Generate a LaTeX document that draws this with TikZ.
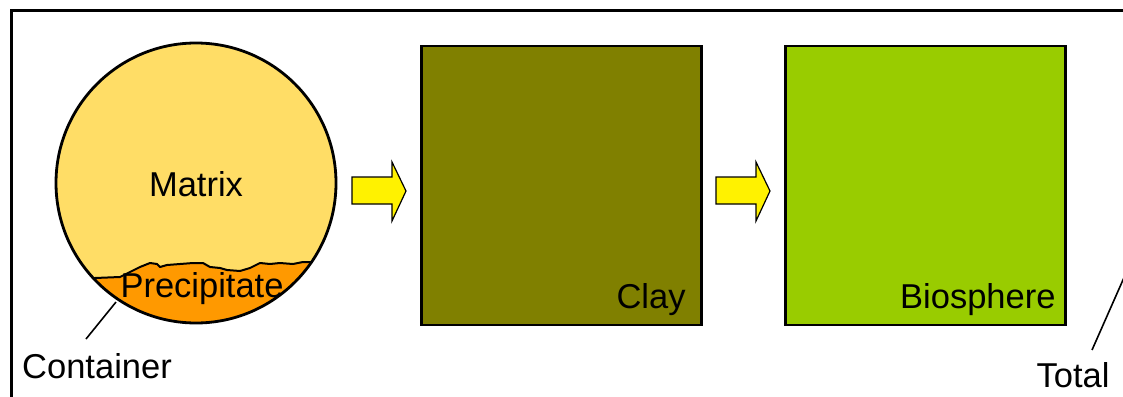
\documentclass[tikz,border=0pt]{standalone}
\usepackage{fontspec}
\setmainfont{Liberation Sans}
\begin{document}
\begin{tikzpicture}[x=1pt,y=-1pt,
  lbl/.style={font=\fontsize{34.5}{38}\selectfont, inner sep=0pt},
  box/.style={draw=black, line width=2.5pt},
  blockarrow/.style={draw=black, line width=1.2pt, fill=yellow, line join=miter},
  leader/.style={draw=black, line width=1.6pt}]
\definecolor{matrixfill}{HTML}{FFDD66}
\definecolor{precip}{HTML}{FF9900}
\definecolor{clay}{HTML}{808000}
\definecolor{bio}{HTML}{99CC00}
\useasboundingbox (0,0) rectangle (1123,396);
\clip (0,0) rectangle (1123,396);

% outer frame
\draw[line width=3pt] (11,11) rectangle (1150,430);

% container: matrix with precipitate at the bottom
\coordinate (c) at (196,183);
\fill[matrixfill] (c) circle (140);
\begin{scope}
  \clip (c) circle (140);
  \fill[precip] (90,278) -- (95,278) -- (120,277) -- (130,272) -- (140,267) -- (150,263) -- (157,264)
    -- (160,267) -- (167,265) -- (180,264) -- (193,263) -- (203,263) -- (210,267) -- (220,268)
    -- (227,270) -- (240,271) -- (250,268) -- (260,263) -- (270,264) -- (280,263) -- (293,264)
    -- (303,262) -- (312,262) -- (340,262) -- (340,335) -- (90,335) -- cycle;
  \draw[line width=2pt, line join=round] (90,278) -- (95,278) -- (120,277) -- (130,272) -- (140,267) -- (150,263) -- (157,264)
    -- (160,267) -- (167,265) -- (180,264) -- (193,263) -- (203,263) -- (210,267) -- (220,268)
    -- (227,270) -- (240,271) -- (250,268) -- (260,263) -- (270,264) -- (280,263) -- (293,264)
    -- (303,262) -- (312,262) -- (340,262);
\end{scope}
\draw[line width=2.8pt] (c) circle (140);
\node[lbl] (matrix) at (196,184) {Matrix};
\node[lbl] (precipitate) at (202,289) {Precipitate};

\node[lbl] (container) at (97,366) {Container};
\coordinate (cedge) at (116,302);
\draw[leader] (86,339) -- (cedge);

% reservoirs
\node[box, fill=clay, minimum width=280, minimum height=279, inner sep=0pt] (claybox) at (561.5,185.5) {};
\node[lbl, anchor=south east] (claylbl) at ([xshift=-17, yshift=10]claybox.south east) {Clay};
\node[box, fill=bio, minimum width=280, minimum height=279, inner sep=0pt] (biobox) at (925.5,185.5) {};
\node[lbl, anchor=south east] (biolbl) at ([xshift=-11, yshift=10]biobox.south east) {Biosphere};

% transfer arrows
\draw[blockarrow] (352,177) -- (392,177) -- (392,162) -- (406,191) -- (392,221) -- (392,204) -- (352,204) -- cycle;
\draw[blockarrow] (716,177) -- (756,177) -- (756,162) -- (770,191) -- (756,221) -- (756,204) -- (716,204) -- cycle;

% total
\node[lbl] (total) at (1073,375) {Total};
\draw[leader] (1092,350) -- (1130,264);
\end{tikzpicture}
\end{document}
